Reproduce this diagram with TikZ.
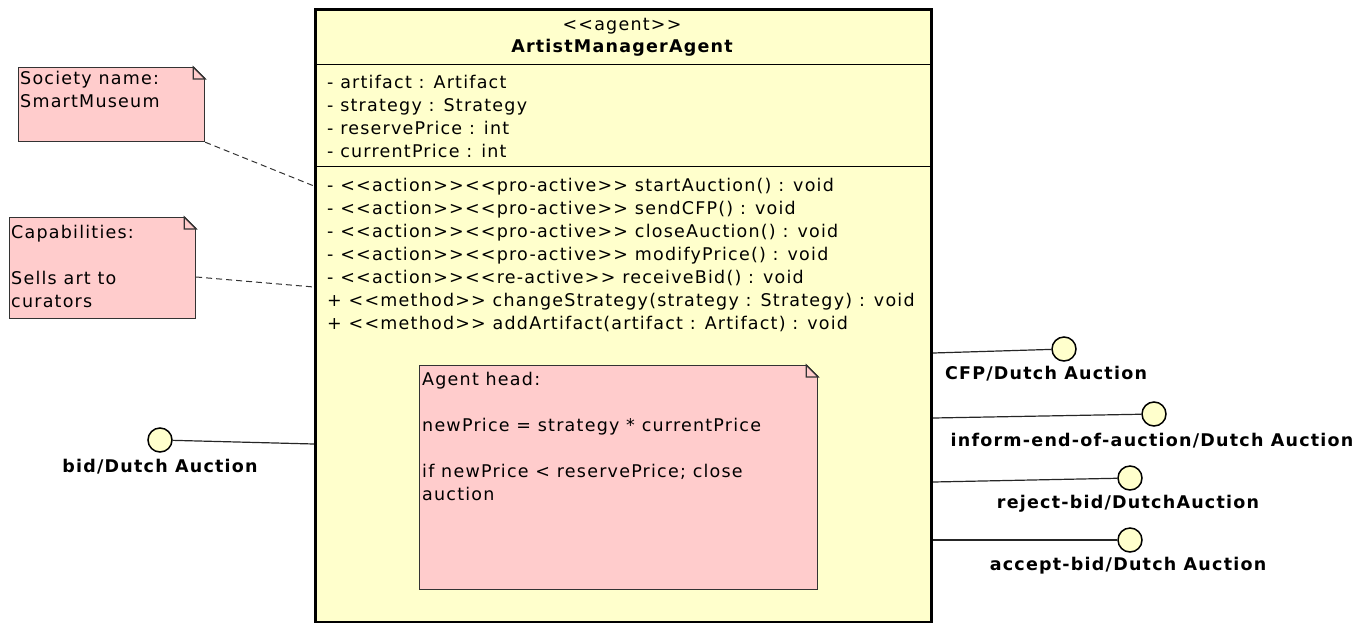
\documentclass[tikz,border=0pt]{standalone}
\usepackage{fontspec}
\setmainfont[Ligatures=TeXOff, LetterSpace=7]{DejaVu Sans}
\usetikzlibrary{positioning}
\definecolor{agentfill}{RGB}{255,255,204}
\definecolor{notefill}{RGB}{255,204,204}
\tikzstyle{agent}=[draw, line width=3pt, fill=agentfill, inner sep=0]
\tikzstyle{note}=[draw=black!80, fill=notefill, line width=1.2pt, inner sep=0]
\tikzstyle{txt}=[anchor=base west, align=left, inner sep=0, font=\fontsize{17.5}{23}\selectfont]
\tikzstyle{port}=[circle, draw, line width=1.5pt, fill=agentfill, minimum size=24pt, inner sep=0]
\tikzstyle{portlabel}=[anchor=base, inner sep=0, font=\fontsize{17.5}{23}\selectfont\bfseries]
\tikzstyle{link}=[line width=1.2pt, black!85]
\tikzstyle{anchorline}=[line width=1pt, black!80, dash pattern=on 6pt off 4pt]
% folded corner of a note
\newcommand{\dogear}[2]{%
  \fill[#2] ([xshift=-12pt,yshift=1pt]#1.north east) -- ([xshift=1pt,yshift=1pt]#1.north east)
    -- ([xshift=1pt,yshift=-12pt]#1.north east) -- cycle;
  \draw[black!80, line width=1.2pt, fill=notefill] ([xshift=-12pt]#1.north east) -- ([yshift=-12pt]#1.north east)
    -- ([xshift=-12pt,yshift=-12pt]#1.north east) -- cycle;
  \draw[black!80, line width=1.2pt] ([xshift=-12pt]#1.north east) -- ([yshift=-12pt]#1.north east);
}

\begin{document}
\begin{tikzpicture}[x=1pt,y=-1pt]
  \useasboundingbox (0,0) rectangle (1357,622);

  %% the agent
  \node[agent, minimum width=616pt, minimum height=613pt, anchor=north west] (agent) at (314,8) {};
  \draw[line width=1pt] (agent.west |- 0,64) -- (agent.east |- 0,64);
  \draw[line width=1pt] (agent.west |- 0,166) -- (agent.east |- 0,166);
  \node[txt, anchor=base] (stereo) at (622,30) {<<agent>>};
  \node[txt, anchor=base, font=\fontsize{17.5}{23}\selectfont\bfseries] (name) at (622,52) {ArtistManagerAgent};
  \node[txt] (attrs) at (327,157) {- artifact : Artifact\\- strategy : Strategy\\- reservePrice : int\\- currentPrice : int};
  \node[txt] (ops) at (327,329) {- <<action>><<pro-active>> startAuction() : void\\
    - <<action>><<pro-active>> sendCFP() : void\\
    - <<action>><<pro-active>> closeAuction() : void\\
    - <<action>><<pro-active>> modifyPrice() : void\\
    - <<action>><<re-active>> receiveBid() : void\\
    + <<method>> changeStrategy(strategy : Strategy) : void\\
    + <<method>> addArtifact(artifact : Artifact) : void};

  %% notes
  \node[note, minimum width=186pt, minimum height=74pt, anchor=north west] (society) at (18,67) {};
  \dogear{society}{white}
  \node[txt] (societytxt) at (20,107) {Society name:\\SmartMuseum};

  \node[note, minimum width=186pt, minimum height=101pt, anchor=north west] (capab) at (9,217) {};
  \dogear{capab}{white}
  \node[txt] (capabtxt) at (11,307) {Capabilities:\\[23pt]Sells art to\\curators};

  \node[note, minimum width=398pt, minimum height=224pt, anchor=north west] (head) at (419,365) {};
  \dogear{head}{agentfill}
  \node[txt] (headtxt) at (422,500) {Agent head:\\[23pt]newPrice = strategy * currentPrice\\[23pt]if newPrice < reservePrice; close\\auction};

  \draw[anchorline] (society.south east) -- (agent.west |- 0,186);
  \draw[anchorline] (capab.east |- 0,277) -- (agent.west |- 0,287);

  %% ports
  \node[port] (bid) at (160,440) {};
  \node[portlabel] (bidlbl) at (160,472) {bid/Dutch Auction};
  \draw[link] (bid) -- (agent.west |- 0,444);

  \node[port] (cfp) at (1064,349) {};
  \node[portlabel] (cfplbl) at (1046,379) {CFP/Dutch Auction};
  \draw[link] (agent.east |- 0,353) -- (cfp);

  \node[port] (inform) at (1154,414) {};
  \node[portlabel] (informlbl) at (1152,446) {inform-end-of-auction/Dutch Auction};
  \draw[link] (agent.east |- 0,418) -- (inform);

  \node[port] (reject) at (1130,478) {};
  \node[portlabel] (rejectlbl) at (1128,508) {reject-bid/DutchAuction};
  \draw[link] (agent.east |- 0,482) -- (reject);

  \node[port] (accept) at (1130,540) {};
  \node[portlabel] (acceptlbl) at (1128,570) {accept-bid/Dutch Auction};
  \draw[link] (agent.east |- 0,540) -- (accept);
\end{tikzpicture}
\end{document}
